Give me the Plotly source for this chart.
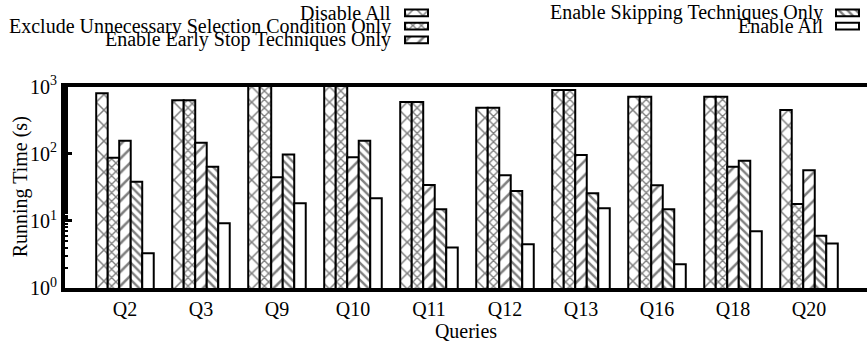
import plotly.graph_objects as go

queries = ["Q2", "Q3", "Q9", "Q10", "Q11", "Q12", "Q13", "Q16", "Q18", "Q20"]
series_names = [
    "Disable All",
    "Exclude Unnecessary Selection Condition Only",
    "Enable Early Stop Techniques Only",
    "Enable Skipping Techniques Only",
    "Enable All",
]
disable_all = [800, 630, 1200, 1200, 590, 486, 890, 710, 710, 450]
exclude_only = [87, 630, 1200, 1200, 590, 486, 890, 710, 710, 17.8]
early_stop_only = [157, 146, 44.7, 89, 34.3, 48, 96, 34, 64, 57]
skipping_only = [38.4, 64, 98, 157, 14.9, 28, 25.8, 14.9, 79, 6.0]
enable_all = [3.3, 9.2, 18.3, 21.7, 4.0, 4.5, 15.4, 2.25, 7.0, 4.6]
series_values = [disable_all, exclude_only, early_stop_only, skipping_only, enable_all]

y_tickvals = [1, 10, 100, 1000]
y_ticktext = ["10<sup>0</sup>", "10<sup>1</sup>", "10<sup>2</sup>", "10<sup>3</sup>"]

# styles
patterns = [
    dict(shape="x", size=11, solidity=0.26),
    dict(shape="x", size=6, solidity=0.4),
    dict(shape="/", size=10, solidity=0.25),
    dict(shape="\\", size=6, solidity=0.4),
    dict(shape="", size=8, solidity=0.2),
]
FONT = "Liberation Serif"

fig = go.Figure()
for name, vals, pat in zip(series_names, series_values, patterns):
    fig.add_trace(go.Bar(
        x=queries, y=vals, name=name, showlegend=False,
        marker=dict(color="white", line=dict(color="black", width=2),
                    pattern=dict(fgcolor="black", bgcolor="white", **pat)),
        xaxis="x", yaxis="y",
    ))

# custom legend (text left of swatch, as in the reference), drawn on a pixel-scaled overlay axis
legend_cols = [
    dict(text_right=393, sw_left=405, rows=[0, 1, 2]),
    dict(text_right=825, sw_left=836, rows=[3, 4]),
]
row_top = [9.5, 22.8, 36.4]
sw_w, sw_h = 23, 6.8
annotations = []
for col in legend_cols:
    for r, si in enumerate(col["rows"]):
        fig.add_trace(go.Bar(
            x=[col["sw_left"]], y=[sw_h], base=[row_top[r]], width=[sw_w], offset=0,
            showlegend=False, hoverinfo="skip",
            marker=dict(color="white", line=dict(color="black", width=2),
                        pattern=dict(fgcolor="black", bgcolor="white", **patterns[si])),
            xaxis="x2", yaxis="y2",
        ))
        annotations.append(dict(
            x=col["text_right"], y=row_top[r] + sw_h / 2, xref="x2", yref="y2",
            text=series_names[si], showarrow=False, xanchor="right", yanchor="middle",
            font=dict(family=FONT, size=20, color="black"),
        ))

H_PLOT = 288
y_dom_top = (H_PLOT - 86.7) / H_PLOT
annotations.append(dict(
    x=(20 - 65) / 802, y=y_dom_top / 2, xref="paper", yref="paper",
    text="Running Time (s)", textangle=-90, showarrow=False,
    xanchor="center", yanchor="middle", font=dict(family=FONT, size=20, color="black"),
))

fig.update_layout(
    width=867, height=347,
    margin=dict(l=65, r=0, t=0, b=59),
    paper_bgcolor="white", plot_bgcolor="white",
    barmode="group", bargap=0.243, bargroupgap=0,
    font=dict(family=FONT, size=20, color="black"),
    annotations=annotations,
    xaxis=dict(
        type="category", range=[-0.789, 9.763], automargin=False,
        showline=True, linewidth=4, linecolor="black", mirror=True,
        ticks="", showgrid=False, zeroline=False,
        title=dict(text="Queries", standoff=0, font=dict(size=20)),
        tickfont=dict(size=20),
        anchor="y",
    ),
    yaxis=dict(
        type="log", range=[0, 3], domain=[0, y_dom_top], automargin=False,
        tickvals=y_tickvals, ticktext=y_ticktext,
        showline=True, linewidth=4, linecolor="black",
        ticks="inside", ticklen=7, tickwidth=3, tickcolor="black",
        minor=dict(ticks="inside", ticklen=3, tickwidth=2, tickcolor="black", showgrid=False),
        showgrid=False, zeroline=False,
        tickfont=dict(size=20),
        anchor="x",
    ),
    xaxis2=dict(range=[65, 867], domain=[0, 1], visible=False, anchor="y2", fixedrange=True),
    yaxis2=dict(range=[46, 0], domain=[1 - 46 / H_PLOT, 1], visible=False, anchor="x2", fixedrange=True),
)

fig.write_html("out.html")
